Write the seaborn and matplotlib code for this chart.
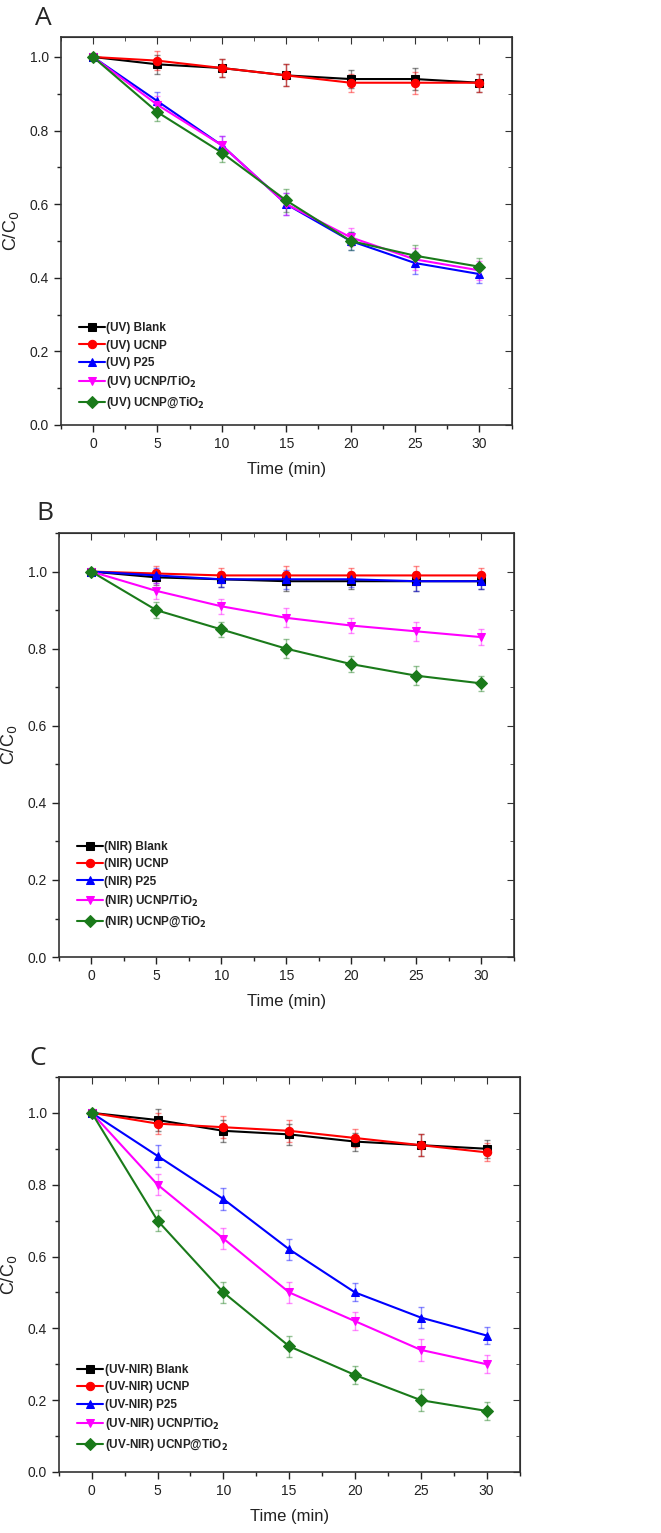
import numpy as np
import pandas as pd
import matplotlib
matplotlib.use('Agg')
import matplotlib.pyplot as plt
import seaborn as sns
from matplotlib.ticker import MultipleLocator

# time points (min)
time = [0, 5, 10, 15, 20, 25, 30]

# panel A - UV
uv_blank = [1.00, 0.98, 0.97, 0.95, 0.94, 0.94, 0.93]
uv_ucnp = [1.00, 0.99, 0.97, 0.95, 0.93, 0.93, 0.93]
uv_p25 = [1.00, 0.88, 0.76, 0.60, 0.50, 0.44, 0.41]
uv_mix = [1.00, 0.87, 0.76, 0.60, 0.51, 0.45, 0.42]
uv_core = [1.00, 0.85, 0.74, 0.61, 0.50, 0.46, 0.43]
uv_err = [0.00, 0.025, 0.025, 0.03, 0.025, 0.03, 0.025]

# panel B - NIR
nir_blank = [1.00, 0.985, 0.98, 0.975, 0.975, 0.975, 0.975]
nir_ucnp = [1.00, 0.995, 0.99, 0.99, 0.99, 0.99, 0.99]
nir_p25 = [1.00, 0.99, 0.98, 0.98, 0.98, 0.975, 0.975]
nir_mix = [1.00, 0.95, 0.91, 0.88, 0.86, 0.845, 0.83]
nir_core = [1.00, 0.90, 0.85, 0.80, 0.76, 0.73, 0.71]
nir_err = [0.00, 0.02, 0.02, 0.025, 0.02, 0.025, 0.02]

# panel C - UV-NIR
uvnir_blank = [1.00, 0.98, 0.95, 0.94, 0.92, 0.91, 0.90]
uvnir_ucnp = [1.00, 0.97, 0.96, 0.95, 0.93, 0.91, 0.89]
uvnir_p25 = [1.00, 0.88, 0.76, 0.62, 0.50, 0.43, 0.38]
uvnir_mix = [1.00, 0.80, 0.65, 0.50, 0.42, 0.34, 0.30]
uvnir_core = [1.00, 0.70, 0.50, 0.35, 0.27, 0.20, 0.17]
uvnir_err = [0.00, 0.03, 0.03, 0.03, 0.025, 0.03, 0.025]

samples = ['Blank', 'UCNP', 'P25', 'UCNP/TiO$_\\mathbf{2}$', 'UCNP@TiO$_\\mathbf{2}$']
colors = ['black', 'red', 'blue', 'magenta', '#1a7a1a']
markers = ['s', 'o', '^', 'v', 'D']

sns.set_style('white')
plt.rcParams['font.family'] = ['Liberation Sans', 'DejaVu Sans']

fig = plt.figure(figsize=(6.61, 15.33), dpi=100)

# letter, prefix, series, errors, axes rect, y top, legend y, letter x
panels = [
    ('A', '(UV)', [uv_blank, uv_ucnp, uv_p25, uv_mix, uv_core], uv_err,
     [0.092, 0.7228, 0.682, 0.253], 1.054, 0.277, -0.058),
    ('B', '(NIR)', [nir_blank, nir_ucnp, nir_p25, nir_mix, nir_core], nir_err,
     [0.089, 0.3757, 0.688, 0.2766], 1.10, 0.285, -0.05),
    ('C', '(UV-NIR)', [uvnir_blank, uvnir_ucnp, uvnir_p25, uvnir_mix, uvnir_core], uvnir_err,
     [0.089, 0.0398, 0.697, 0.2577], 1.10, 0.285, -0.065),
]

for letter, prefix, series, err, pos, ytop, legy, letx in panels:
    ax = fig.add_axes(pos)
    for vals, name, c, m in zip(series, samples, colors, markers):
        df = pd.DataFrame({'time': time, 'c': vals})
        ax.errorbar(time, vals, yerr=err, fmt='none', ecolor=c, alpha=0.45,
                    elinewidth=1, capsize=2, zorder=2)
        sns.lineplot(data=df, x='time', y='c', color=c, marker=m, markersize=6,
                     markeredgecolor=c, linewidth=1.5, label=prefix + ' ' + name,
                     ax=ax, zorder=3)
    ax.set_xlim(-2.5, 32.5)
    ax.set_ylim(0, ytop)
    ax.xaxis.set_major_locator(MultipleLocator(5))
    ax.xaxis.set_minor_locator(MultipleLocator(2.5))
    ax.yaxis.set_major_locator(MultipleLocator(0.2))
    ax.yaxis.set_minor_locator(MultipleLocator(0.1))
    ax.yaxis.set_major_formatter(matplotlib.ticker.FormatStrFormatter('%.1f'))
    ax.tick_params(which='both', direction='out', top=False, right=False,
                   bottom=True, left=True, labelsize=10, colors='#222222')
    ax.tick_params(which='major', length=5, width=1)
    ax.tick_params(which='minor', length=3, width=1)
    # inner ticks on top and right, no labels
    sec = ax.secondary_xaxis('top')
    sec.xaxis.set_major_locator(MultipleLocator(5))
    sec.xaxis.set_minor_locator(MultipleLocator(2.5))
    sec.tick_params(which='both', direction='in', labeltop=False, color='#333333')
    sec.tick_params(which='major', length=5)
    sec.tick_params(which='minor', length=3)
    secy = ax.secondary_yaxis('right')
    secy.yaxis.set_major_locator(MultipleLocator(0.2))
    secy.yaxis.set_minor_locator(MultipleLocator(0.1))
    secy.tick_params(which='both', direction='in', labelright=False, color='#333333')
    secy.tick_params(which='major', length=5)
    secy.tick_params(which='minor', length=3)
    for s in ax.spines.values():
        s.set_color('#333333')
        s.set_linewidth(1.2)
    ax.set_xlabel('Time (min)', fontsize=12, color='#222222', labelpad=8)
    ax.set_ylabel('C/C$_0$', fontsize=13, color='#222222', labelpad=6)
    leg = ax.legend(loc='upper left', bbox_to_anchor=(0.03, legy), frameon=False,
                    fontsize=8.5, handlelength=2.2, handletextpad=0.1,
                    labelspacing=0.45, borderaxespad=0)
    for t in leg.get_texts():
        t.set_fontweight('bold')
        t.set_color('#222222')
    ax.text(letx, 1.03, letter, transform=ax.transAxes, fontsize=19,
            family=['Open Sans', 'DejaVu Sans'], ha='left', va='baseline')

fig.savefig('out.png', dpi=100)
